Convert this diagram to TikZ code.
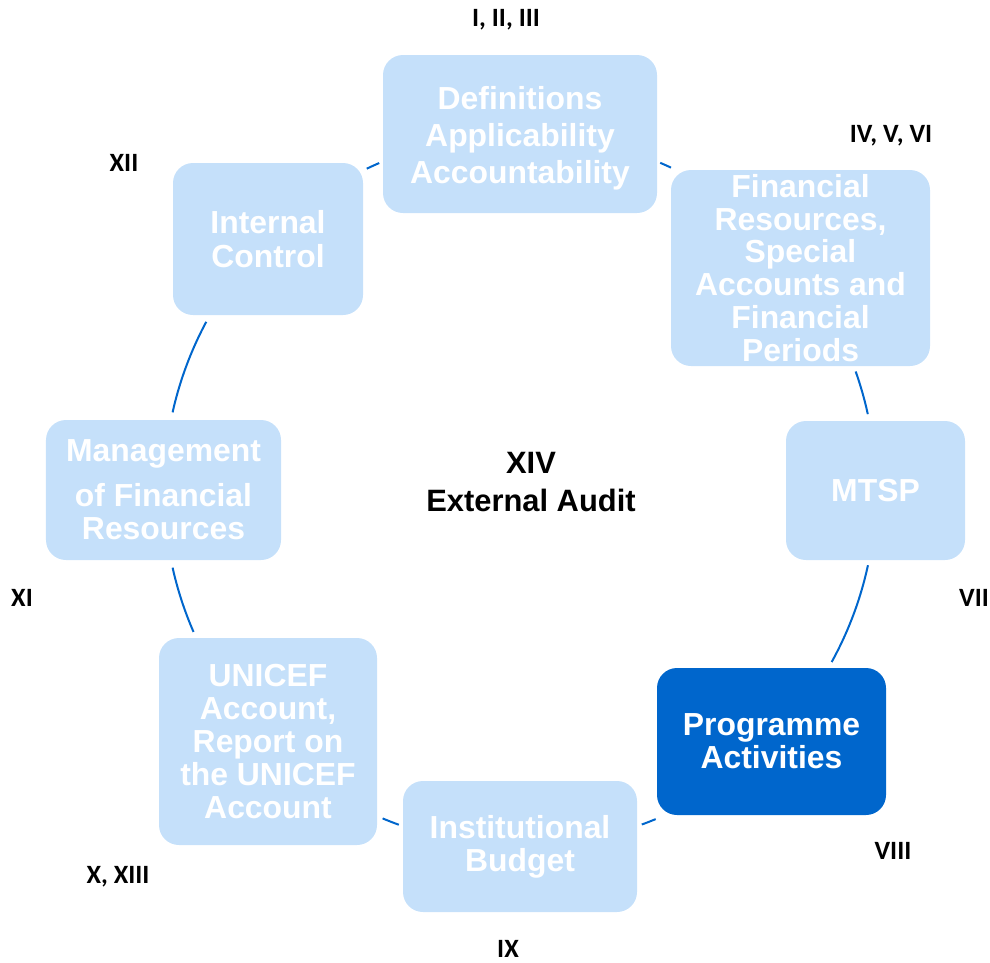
\documentclass[tikz,border=0pt]{standalone}
\usepackage{fontspec}
\setmainfont{Liberation Sans}
\newfontfamily\lblfont{Carlito}
\usetikzlibrary{positioning}
\definecolor{boxlight}{RGB}{197,224,250}
\definecolor{boxdark}{RGB}{0,102,204}
\definecolor{ringblue}{RGB}{0,102,204}
\begin{document}
\begin{tikzpicture}[x=1bp,y=-1bp,
  stage/.style={fill=boxlight,rounded corners=20bp,inner sep=0pt,align=center,text=white,
    font=\fontsize{32}{33}\selectfont\bfseries},
  hilite/.style={stage,fill=boxdark},
  ring/.style={ringblue,line width=2bp},
  tag/.style={font=\lblfont\fontsize{26.5}{28}\selectfont\bfseries,inner sep=0pt}]
\useasboundingbox (0,0) rectangle (990,963);
\coordinate (ctr) at (520,490);
% stages round the ring
\node[stage,minimum width=274bp,minimum height=158bp,font=\fontsize{32}{37}\selectfont\bfseries] (defs) at (520,134) {\rule{0pt}{31bp}Definitions\\Applicability\\Accountability};
\node[stage,minimum width=259bp,minimum height=196bp] (finres) at (800.5,268) {Financial\\Resources,\\Special\\Accounts and\\Financial\\Periods};
\node[stage,minimum width=179bp,minimum height=139bp] (mtsp) at (875.5,490.5) {MTSP};
\node[hilite,minimum width=229bp,minimum height=147bp] (prog) at (771.5,741.5) {Programme\\Activities};
\node[stage,minimum width=234bp,minimum height=131bp] (instb) at (520,846.5) {Institutional\\Budget};
\node[stage,minimum width=218bp,minimum height=207bp] (unacc) at (268,741.5) {UNICEF\\Account,\\Report on\\the UNICEF\\Account};
\node[stage,minimum width=235bp,minimum height=140bp] (mgmt) at (163.5,490) {Management\\[12bp]of Financial\\Resources};
\node[stage,minimum width=190bp,minimum height=152bp,font=\fontsize{32}{34}\selectfont\bfseries] (intc) at (268,239) {Internal\\Control};
% ring pieces between the stages
\foreach \a/\b in {293.2/295.1,340.55/347.7,12.2/28.9,67.6/70.0,109.9/112.7,156.5/167.4,192.6/208.2,244.5/246.7}
  \draw[ring] (ctr) ++(\a:356) arc[start angle=\a,end angle=\b,radius=356];
% centre
\node[align=center,font=\fontsize{31}{38}\selectfont\bfseries] (audit) at (531,482) {XIV\\External Audit};
% article numbers
\node[tag] (t1) at (506,20) {I, II, III};
\node[tag] (t2) at (891,136) {IV, V, VI};
\node[tag] (t3) at (974,598) {VII};
\node[tag] (t4) at (893,851) {VIII};
\node[tag] (t5) at (508,949) {IX};
\node[tag] (t6) at (118,877) {X, XIII};
\node[tag] (t7) at (22,598) {XI};
\node[tag] (t8) at (124,163) {XII};
\end{tikzpicture}
\end{document}
